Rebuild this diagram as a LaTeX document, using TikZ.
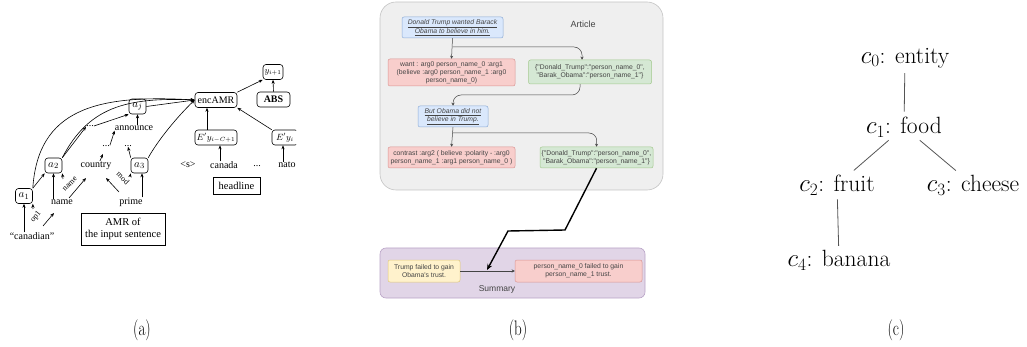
\documentclass[tikz,border=0pt]{standalone}
\usepackage{fontspec}
\usepackage{graphicx}
\newfontfamily\timesf{Liberation Serif}
\newfontfamily\arialf{Liberation Sans}
\usetikzlibrary{arrows.meta}
\definecolor{artfill}{HTML}{EFEFEF}
\definecolor{artdraw}{HTML}{C4C4C4}
\definecolor{bluefill}{HTML}{DAE8FC}
\definecolor{bluedraw}{HTML}{8EACD6}
\definecolor{redfill}{HTML}{F8CECC}
\definecolor{reddraw}{HTML}{D99593}
\definecolor{greenfill}{HTML}{D5E8D4}
\definecolor{greendraw}{HTML}{A3C98E}
\definecolor{yelfill}{HTML}{FFF2CC}
\definecolor{yeldraw}{HTML}{E0C97A}
\definecolor{purfill}{HTML}{E1D5E7}
\definecolor{purdraw}{HTML}{B9A3C6}
\definecolor{txtgray}{HTML}{444444}
\definecolor{treegray}{HTML}{555555}
\tikzset{
  aarr/.style={-{Stealth[length=4pt,width=3.2pt]}, line width=0.6pt, black},
  anode/.style={draw, line width=0.6pt, rounded corners=3pt, inner sep=0pt, minimum width=17pt, minimum height=15pt, font=\fontsize{11}{12}\selectfont},
  wd/.style={inner sep=0pt, font=\timesf\fontsize{10}{12}\selectfont},
  abox/.style={draw, line width=0.6pt, rounded corners=3pt, inner sep=0pt, minimum height=15pt, font=\timesf\fontsize{10}{12}\selectfont},
  sqbox/.style={draw, line width=0.6pt, inner sep=0pt, align=center, font=\timesf\fontsize{10.5}{12}\selectfont},
  elab/.style={inner sep=0pt, font=\timesf\fontsize{8}{9}\selectfont},
  bbox/.style={draw, line width=0.5pt, rounded corners=2pt, inner sep=0pt, align=center, text=txtgray, font=\arialf\fontsize{6.8}{8}\selectfont},
  barr/.style={-{Stealth[length=3pt,width=3pt]}, line width=0.5pt, draw=txtgray},
  tnode/.style={inner sep=1pt, font=\fontsize{23.5}{28}\selectfont},
  tline/.style={draw=treegray, line width=0.8pt},
  captxt/.style={inner sep=0pt, font=\fontsize{21}{24}\selectfont}
}
\begin{document}
\begin{tikzpicture}[x=1pt,y=-1pt]
\useasboundingbox (0,0) rectangle (1027,347);
% ================= panel (a) =================
\begin{scope}
\clip (0,0) rectangle (296,260);
\node[anode] (a1) at (24,196) {$a_1$};
\node[anode] (a2) at (53.5,165.5) {$a_2$};
\node[anode] (aj) at (137.5,106.5) {$a_j$};
\node[anode] (a3) at (139.5,165.5) {$a_3$};
\node[abox, minimum width=42pt] (enc) at (216,100) {encAMR};
\node[abox, minimum width=33pt, font=\timesf\bfseries\fontsize{10}{12}\selectfont] (abs) at (273.5,99.5) {ABS};
\node[abox, minimum width=20pt, font=\fontsize{9}{10}\selectfont] (y) at (273,72) {$y_{i+1}$};
\node[abox, minimum width=42pt, font=\fontsize{9}{10}\selectfont] (e1) at (216,137.5) {$E'y_{i-C+1}$};
\node[abox, minimum width=26pt, font=\fontsize{9}{10}\selectfont] (e2) at (285,137.5) {$E'y_i$};
\node[wd] (can) at (32,236) {“canadian”};
\node[wd] (name) at (62,202) {name};
\node[wd] (country) at (96,166) {country};
\node[wd] (prime) at (131,202) {prime};
\node[wd] (announce) at (134,128) {announce};
\node[wd] (d1) at (90,126) {...};
\node[wd] (d2) at (106,146) {...};
\node[wd] (d3) at (128,146) {...};
\node[wd] (s) at (188,165) {<s>};
\node[wd] (canada) at (224,165) {canada};
\node[wd] (d4) at (257,166) {...};
\node[wd] (nato) at (287,165) {nato};
\node[sqbox, minimum width=47pt, minimum height=17pt] (head) at (236.5,185.5) {headline};
\node[sqbox, minimum width=84pt, minimum height=32pt] (amr) at (123,229) {AMR of\\the input sentence};
\node[elab, rotate=52] (op1) at (36,217) {op1};
\node[elab, rotate=45] (lname) at (70,184) {name};
\node[elab, rotate=-45] (lmod) at (123,178) {mod};
% edge-label arrows
\coordinate (o1a) at (43,226); \coordinate (o1b) at (54,213);
\coordinate (o1c) at (33,209);
\draw[aarr] (o1a) -- (o1b);
\draw[aarr] (o1c) -- (a1.south east);
\coordinate (n1a) at (69,198); \coordinate (n1b) at (86,178);
\coordinate (n1c) at (63,179);
\draw[aarr] (n1a) -- (n1b);
\draw[aarr] (n1c) -- (a2.south east);
\coordinate (m1a) at (119,192); \coordinate (m1b) at (106,178);
\coordinate (m1c) at (130,177);
\draw[aarr] (m1a) -- (m1b);
\draw[aarr] (m1c) -- (a3.south west);
% word arrows
\draw[aarr] (can.north -| a1.south) -- (a1.south);
\draw[aarr] (name.north -| a2.south) -- (a2.south);
\draw[aarr] (prime.north -| 142,0) -- (a3.south -| 142,0);
\draw[aarr] (a1.north east) -- (a2.south west);
\path (country.north) ++(4,-1) coordinate (cn);
\draw[aarr] (cn) -- ++(3,-7);
\draw[aarr] (d2.north east) -- (announce.south west);
\draw[aarr] (a3.north west) -- (d3.south);
\draw[aarr] (announce.north -| aj.south) -- (aj.south);
\draw[aarr] (a2.north east) -- (d1.south west);
\draw[aarr] (d1.east) -- (aj.south west);
\draw[aarr] (aj.east) -- (enc.west);
\draw[aarr] (a1.north east) .. controls (38,110) and (95,94) .. (enc.west);
\draw[aarr] (a2.north east) .. controls (88,108) and (125,97) .. (enc.west);
\draw[aarr] (a3.north east) .. controls (158,140) and (178,116) .. (enc.west);
\draw[aarr] (enc.north east) -- (y.south west);
\draw[aarr] (abs.north) -- (y.south);
\draw[aarr] (e1.north -| 207,0) -- (enc.south -| 207,0);
\draw[aarr] (e2.north west) -- (enc.south east);
\draw[aarr] (canada.north -| 220,0) -- (e1.south -| 220,0);
\draw[aarr] (nato.north -| 283,0) -- (e2.south -| 283,0);
\end{scope}
% ================= panel (b) =================
\draw[draw=artdraw, fill=artfill, line width=0.6pt, rounded corners=16pt] (380,2) rectangle (663,190);
\node[text=txtgray, font=\arialf\fontsize{9}{10}\selectfont] (article) at (583,24) {Article};
\node[bbox, fill=bluefill, draw=bluedraw, minimum width=101pt, minimum height=21pt] (b1) at (452.5,27.5)
  {\itshape\underline{Donald Trump wanted Barack}\\\itshape\underline{Obama to believe in him.}};
\node[bbox, fill=redfill, draw=reddraw, minimum width=127pt, minimum height=27pt] (r1) at (451.5,72.5)
  {want : arg0 person\_name\_0 :arg1\\(believe :arg0 person\_name\_1 :arg0\\person\_name\_0)};
\node[bbox, fill=greenfill, draw=greendraw, minimum width=123pt, minimum height=24pt] (g1) at (590,72)
  {\{"Donald\_Trump":"person\_name\_0",\\"Barak\_Obama":"person\_name\_1"\}};
\node[bbox, fill=bluefill, draw=bluedraw, minimum width=70pt, minimum height=21pt] (b2) at (453,116.5)
  {\itshape\underline{But Obama did not}\\\itshape\underline{believe in Trump.}};
\node[bbox, fill=redfill, draw=reddraw, minimum width=127pt, minimum height=21pt] (r2) at (451.5,157.5)
  {contrast :arg2 ( believe :polarity - :arg0\\person\_name\_1 :arg1 person\_name\_0 )};
\node[bbox, fill=greenfill, draw=greendraw, minimum width=113pt, minimum height=21pt] (g2) at (596.5,157.5)
  {\{"Donald\_Trump":"person\_name\_0",\\"Barak\_Obama":"person\_name\_1"\}};
\draw[draw=purdraw, fill=purfill, line width=0.6pt, rounded corners=6pt] (380,248) rectangle (645,298);
\node[bbox, fill=yelfill, draw=yeldraw, minimum width=72pt, minimum height=22pt] (ys) at (424,271)
  {Trump failed to gain\\Obama's trust.};
\node[bbox, fill=redfill, draw=reddraw, minimum width=127pt, minimum height=22pt] (rs) at (578.5,271)
  {person\_name\_0 failed to gain\\person\_name\_1 trust.};
\node[text=txtgray, font=\arialf\fontsize{8.5}{10}\selectfont] (summary) at (497,289) {Summary};
\coordinate (t1) at (b1.south |- 0,47);
\coordinate (t2) at (b2.south |- 0,133);
\draw[barr] (b1.south) -- (r1.north);
\draw[barr, rounded corners=8pt] (t1) -- (582,47) -- (g1.north -| 582,0);
\draw[barr, rounded corners=8pt] (g1.south -| 580,0) -- (580,95) -- (453,95) -- (b2.north);
\draw[barr] (b2.south) -- (r2.north);
\draw[barr, rounded corners=8pt] (t2) -- (597,133) -- (g2.north);
\draw[barr] (ys.east) -- (rs.west);
\coordinate (tk) at (487,270);
\draw[-{Stealth[length=6pt,width=5pt]}, line width=1.4pt, black] (g2.south) -- (565,230) -- (508,231) -- (tk);
% ================= panel (c) =================
\node[tnode] (c0) at (905,58) {$c_0$: entity};
\node[tnode] (c1) at (904,127) {$c_1$: food};
\node[tnode] (c2) at (837,185) {$c_2$: fruit};
\node[tnode] (c3) at (973,185) {$c_3$: cheese};
\node[tnode] (c4) at (839,260) {$c_4$: banana};
\draw[tline, shorten <=4pt, shorten >=4pt] (c0) -- (c1);
\draw[tline, shorten <=3pt, shorten >=5pt] (c1) -- (c2);
\draw[tline, shorten <=3pt, shorten >=5pt] (c1) -- (c3);
\draw[tline, shorten <=3pt, shorten >=3pt] (c2) -- (c4);
% captions
\node[captxt] (capa) at (142,330) {\scalebox{0.72}[1]{(a)}};
\node[captxt] (capb) at (518,330) {\scalebox{0.72}[1]{(b)}};
\node[captxt] (capc) at (896,330) {\scalebox{0.72}[1]{(c)}};
\end{tikzpicture}
\end{document}
